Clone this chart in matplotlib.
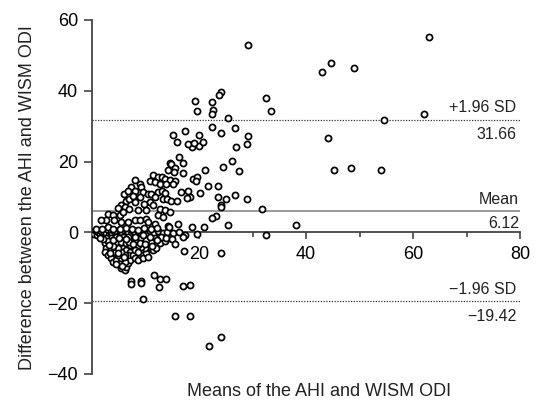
import matplotlib.pyplot as plt
import numpy as np

plt.rcParams['font.family'] = ['Liberation Sans', 'DejaVu Sans']

# Bland-Altman summary values
mean_diff = 6.12
upper_loa = 31.66
lower_loa = -19.42

# points: (mean of AHI and ODI, difference)
far_pts = [(63.0, 55.3), (43.0, 45.3), (44.7, 47.8), (49.0, 46.5), (54.6, 31.8),
           (62.1, 33.4), (44.2, 26.7), (45.2, 17.5), (48.4, 18.3), (54.1, 17.6)]

upper_pts = [(29.1, 53.0), (19.3, 37.0), (22.4, 36.7), (24.1, 39.6), (23.8, 38.7),
             (32.5, 38.1), (19.6, 34.3), (22.6, 34.5), (22.4, 33.5), (33.4, 34.2),
             (25.5, 32.3), (22.5, 29.7), (26.8, 29.6), (24.1, 28.1), (20.0, 27.6),
             (29.1, 27.2), (18.6, 24.0), (20.0, 24.4), (20.8, 25.4), (27.0, 24.2),
             (28.9, 25.0), (26.2, 20.3), (24.4, 18.4), (21.1, 17.6), (27.5, 17.3),
             (18.9, 15.0), (19.7, 15.6), (19.4, 14.6), (21.6, 13.0), (23.6, 13.0),
             (20.2, 11.2), (26.7, 10.7), (23.6, 10.0), (25.0, 9.4), (29.0, 9.3),
             (24.1, 7.6), (24.2, 7.2), (31.8, 6.5), (23.2, 4.6), (22.4, 4.0),
             (18.6, 1.5), (20.9, 1.4), (25.5, 2.2), (38.1, 2.2), (32.6, -0.8),
             (18.3, 10.0), (17.4, 28.7), (15.1, 27.4), (15.8, 25.4), (18.0, 25.0),
             (19.1, 25.3), (16.2, 21.2), (17.0, 19.6), (14.5, 19.6), (14.8, 19.2),
             (15.6, 18.1), (15.3, 17.2), (17.0, 16.8), (14.2, 17.7)]

band_pts = [(11.4, 16.1), (12.3, 15.6), (13.0, 15.6), (13.6, 15.1), (14.5, 14.8),
            (15.6, 14.6), (10.8, 14.6), (11.7, 14.2), (12.7, 13.7), (13.9, 13.7),
            (15.1, 13.7), (8.0, 14.8), (8.9, 13.7), (9.2, 12.8), (7.3, 12.8),
            (8.0, 11.8), (9.5, 11.4), (10.5, 10.9), (11.1, 10.9), (12.3, 11.4),
            (13.1, 11.6), (13.7, 11.1), (16.7, 11.4), (17.9, 11.6), (17.8, 9.8),
            (13.3, 9.5), (14.1, 9.5), (14.8, 9.0), (15.8, 9.0), (11.7, 9.9),
            (10.8, 8.5), (6.4, 9.0), (7.0, 9.5), (8.0, 8.5), (5.5, 7.6),
            (6.1, 7.1), (7.0, 6.7), (8.6, 6.2), (10.1, 6.2), (11.4, 7.6),
            (12.7, 6.7), (13.6, 6.2), (14.5, 5.7), (12.3, 4.8), (13.3, 4.3),
            (3.0, 5.3), (3.9, 4.8), (5.2, 4.8), (2.7, 3.4), (1.7, 3.4),
            (4.2, 3.4), (5.5, 2.9), (6.7, 2.9), (8.0, 3.4), (8.9, 3.4),
            (10.1, 3.9), (10.5, 2.9), (11.7, 2.4), (14.2, 1.7), (16.1, 2.3),
            (4.8, 7.0), (6.0, 10.8), (6.8, 11.8), (5.8, 5.8), (7.6, 10.3),
            (9.0, 9.9), (9.8, 8.0)]

zero_pts = [(0.2, 0.1), (0.4, -0.4), (0.7, 0.3), (0.9, -0.8), (1.2, 0.0),
            (1.5, -0.5), (1.7, 0.5), (2.0, -1.0), (2.3, 0.2), (2.6, -0.3),
            (2.9, 0.6), (3.2, -0.8), (3.5, 0.1), (3.8, -0.4), (4.1, 0.5),
            (4.4, -1.0), (4.7, 0.0), (5.0, -0.6), (5.3, 0.4), (5.7, -0.2),
            (6.0, 0.7), (6.4, -0.7), (6.8, 0.2), (7.2, -0.4), (7.6, 0.5),
            (8.1, -0.1), (8.6, 0.3), (9.1, -0.6), (9.7, 0.2), (10.3, -0.4),
            (10.9, 0.4), (11.6, -0.1), (12.4, 0.3), (13.2, -0.2), (14.1, 0.1),
            (15.2, -0.3), (16.3, 0.2), (0.8, 1.0), (1.8, 0.9), (2.9, 1.4),
            (4.0, 1.1), (5.2, 0.9), (6.3, 1.2), (7.5, 1.0), (8.6, 0.8),
            (9.8, 1.3), (11.0, 0.9), (12.2, 1.2), (14.3, 1.5), (17.4, -0.6),
            (19.6, -0.5)]

blob_pts = [(2.37, -3.10), (2.68, -4.51), (2.37, -5.45), (2.99, -6.38), (3.61, -7.32),
            (3.93, -8.26), (4.55, -7.79), (5.17, -8.73), (5.48, -10.14), (6.11, -10.61),
            (6.42, -9.67), (6.73, -8.73), (7.04, -7.79), (6.11, -8.26), (5.48, -7.32),
            (4.86, -6.38), (4.24, -5.45), (3.61, -4.51), (3.30, -3.10), (4.24, -3.57),
            (5.17, -4.04), (5.79, -4.51), (6.42, -4.98), (7.04, -5.45), (6.73, -6.38),
            (6.11, -6.38), (5.48, -5.45), (4.86, -4.51), (4.55, -2.63), (5.48, -2.63),
            (6.42, -3.10), (7.04, -3.57), (7.35, -2.16), (3.61, -1.69), (2.68, -1.69),
            (4.55, -1.22), (5.79, -1.22), (6.73, -1.22), (7.66, -6.38), (7.98, -7.32),
            (8.60, -7.79), (9.22, -6.38), (9.53, -7.32), (10.16, -5.92), (10.47, -6.85),
            (11.40, -4.98), (12.02, -4.51), (12.65, -3.10), (13.58, -2.44), (12.96, -1.22),
            (11.71, -1.69), (11.09, -2.63), (10.47, -4.04), (9.84, -4.51), (9.22, -4.04),
            (8.60, -3.57), (8.29, -2.16), (9.22, -1.69), (10.16, -2.16), (9.53, -0.75),
            (10.78, -1.22), (7.98, -4.98), (8.60, -5.45), (2.9, -2.4), (3.9, -3.9),
            (4.9, -5.9), (5.9, -6.9), (3.4, -5.8), (4.4, -8.9), (5.6, -9.4),
            (2.0, -2.0), (1.5, -1.6), (3.1, -3.6), (6.9, -2.6), (7.7, -3.4),
            (8.9, -2.9), (8.0, -1.4), (9.9, -3.3), (11.2, -3.8), (12.2, -2.2),
            (13.8, -1.5), (14.9, -2.0), (15.5, -3.2), (6.3, -1.9), (4.0, -2.1),
            (5.0, -1.6)]

lower_pts = [(24.1, -5.7), (17.2, -5.2), (11.6, -12.0), (12.8, -13.1), (13.9, -13.1),
             (12.5, -15.5), (7.2, -13.6), (7.2, -14.6), (9.2, -13.6), (9.2, -14.4),
             (17.1, -15.0), (18.3, -14.8), (9.6, -18.9), (15.5, -23.5), (18.3, -23.5),
             (21.9, -32.0), (24.1, -29.6), (17.1, -1.2)]

groups = [far_pts, upper_pts, band_pts, zero_pts, blob_pts, lower_pts]
pts = np.array([p for g in groups for p in g])

fig = plt.figure(figsize=(5.36, 4.04), dpi=100)
ax = fig.add_axes([92 / 536, 1 - 374 / 404, 428 / 536, 354 / 404])

ax.plot(pts[:, 0], pts[:, 1], 'o', ls='none', mfc='white', mec='black',
        ms=4.4, mew=1.25, zorder=3)

ax.axhline(mean_diff, color='#888888', lw=1.2, zorder=1)
ax.axhline(upper_loa, color='#333333', lw=0.9, ls=(0, (1, 1.2)), zorder=1)
ax.axhline(lower_loa, color='#333333', lw=0.9, ls=(0, (1, 1.2)), zorder=1)

tx = 79.3
lab = dict(ha='right', va='center', fontsize=11.5, color='#222222',
           textcoords='offset points')
ax.annotate('+1.96 SD', (tx, upper_loa), xytext=(0, 9.5), **lab)
ax.annotate(f'{upper_loa:.2f}', (tx, upper_loa), xytext=(0, -10), **lab)
ax.annotate('Mean', (tx + 0.5, mean_diff), xytext=(0, 8), **lab)
ax.annotate(f'{mean_diff:.2f}', (tx + 0.5, mean_diff), xytext=(0, -9.5), **lab)
ax.annotate('\u22121.96 SD', (tx, lower_loa), xytext=(0, 8.5), **lab)
ax.annotate(f'\u2212{abs(lower_loa):.2f}', (tx, lower_loa), xytext=(0, -11), **lab)

ax.set_xlim(0, 80)
ax.set_ylim(-40, 60)
ax.spines['top'].set_visible(False)
ax.spines['right'].set_visible(False)
ax.spines['bottom'].set_position(('data', 0))
for s in ['left', 'bottom']:
    ax.spines[s].set_color('#444444')
    ax.spines[s].set_linewidth(1.3)

ax.set_xticks([20, 40, 60, 80])
ax.set_xticks([10, 30, 50, 70], minor=True)
ax.set_yticks([-40, -20, 0, 20, 40, 60])
ax.set_yticklabels(['\u221240', '\u221220', '0', '20', '40', '60'])
ax.tick_params(axis='x', which='major', direction='out', length=5, width=1.2,
               color='#444444', labelsize=13, pad=5)
ax.tick_params(axis='x', which='minor', direction='out', length=3.5, width=1.2,
               color='#444444')
ax.tick_params(axis='y', direction='out', length=6, width=1.2,
               color='#444444', labelsize=13, pad=4)

fig.text(28 / 536, 1 - 198 / 404, 'Difference between the AHI and WISM ODI',
         rotation=90, ha='center', va='center', fontsize=13, color='#222222')
fig.text(319 / 536, 1 - 392 / 404, 'Means of the AHI and WISM ODI',
         ha='center', va='center', fontsize=13, color='#222222')

fig.savefig('out.png', dpi=100)
